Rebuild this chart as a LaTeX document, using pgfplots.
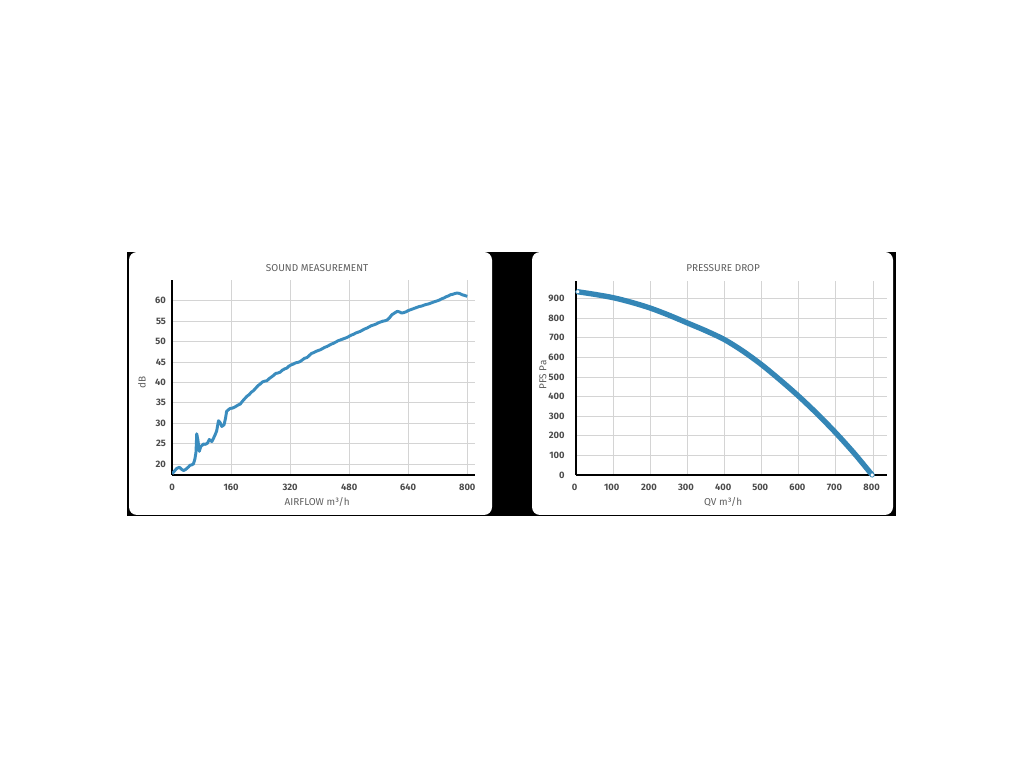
\documentclass[border=0pt]{standalone}
\usepackage{pgfplots}
\pgfplotsset{compat=1.18}
\usepackage{fontspec}
\setmainfont{Fira Sans}
\definecolor{curve}{RGB}{58,140,190}
\definecolor{curve2}{RGB}{52,134,182}
\definecolor{txt}{RGB}{95,95,95}
\definecolor{tck}{RGB}{75,75,75}
\definecolor{grd}{RGB}{212,212,212}

\pgfplotsset{panel/.style={
  scale only axis,
  axis lines*=left,
  axis line style={-, black, line width=1.5pt},
  grid=major,
  grid style={grd, line width=0.6pt},
  major tick length=0pt,
  tick label style={font=\fontsize{7}{8}\selectfont\bfseries, text=tck},
  /pgf/number format/assume math mode=true,
  label style={font=\fontsize{7.5}{9}\selectfont, text=txt},
  every axis title/.style={font=\fontsize{7.5}{9}\selectfont, text=txt, anchor=center},
  xticklabel style={yshift=-3pt},
}}

\begin{document}
\begin{tikzpicture}[x=0.75pt,y=0.75pt]
\fill[white] (0,0) rectangle (1024,768);
\fill[black] (127,252) rectangle (896,516);
\fill[white, rounded corners=6pt] (129,253) rectangle (492,516);
\fill[white, rounded corners=6pt] (532,253) rectangle (893,516);
\coordinate (L) at (172,293);
\coordinate (R) at (576,293);

% sound measurement
\begin{axis}[panel,
  at={(L)}, anchor=south west,
  width=227.25pt, height=146.25pt,
  xmin=0, xmax=821, ymin=17.3, ymax=65.1,
  xtick={0,160,320,480,640,800},
  ytick={20,25,30,35,40,45,50,55,60},
  yticklabel style={xshift=-1pt},
  title={SOUND MEASUREMENT},
  title style={at={(axis description cs:0.479,1.062)}},
  xlabel={AIRFLOW m³/h},
  xlabel style={at={(axis description cs:0.479,-0.138)}, anchor=center},
  ylabel={dB},
  ylabel style={at={(axis description cs:-0.099,0.477)}, anchor=center},
]
\addplot[curve, line width=2.2pt, line join=round] coordinates {
(0,17.6) (6,18.2) (12.7,18.9) (20,19.2) (26,18.7) (31,18.4) (36,18.6) (40,18.9)
(45,19.3) (49,19.7) (54,19.8) (58,20.0) (62,21.2) (65,22.9) (67,27.4) (70,26.0)
(74,23.1) (78,24.3) (82,24.6) (85,24.9) (90,24.8) (96,25.1) (101,26.0) (104,25.8)
(108,25.5) (113,26.4) (117,27.2) (121,28.1) (126,30.6) (130,30.2) (135,29.2)
(141,29.6) (145,31.2) (148,32.9) (153,33.3) (157,33.6) (164,33.7) (171,34.0)
(178,34.4) (185,34.7) (191,35.4) (197,36.0) (203,36.6) (209,37.0) (215,37.6)
(221,38.0) (227,38.6) (233,39.2) (239,39.6) (245,40.1) (251,40.3) (257,40.4)
(263,40.9) (269,41.3) (275,41.7) (281,42.2) (287,42.3) (293,42.5) (299,43.0)
(305,43.3) (311,43.5) (317,44.0) (323,44.3) (329,44.5) (335,44.8) (341,44.9)
(347,45.1) (353,45.5) (359,45.9) (366,46.1) (372,46.6) (378,47.1) (384,47.3)
(390,47.6) (396,47.8) (402,48.0) (408,48.3) (414,48.6) (420,48.8) (426,49.1)
(432,49.4) (438,49.6) (444,49.9) (450,50.2) (456,50.4) (462,50.6) (468,50.8)
(474,51.0) (480,51.3) (486,51.6) (492,51.8) (498,52.1) (504,52.3) (510,52.5)
(516,52.8) (522,53.1) (528,53.3) (534,53.6) (540,53.9) (547,54.1) (553,54.3)
(559,54.6) (565,54.8) (571,55.0) (577,55.1) (583,55.3) (589,55.8) (596,56.6)
(603,57.0) (610,57.4) (616,57.3) (622,57.0) (628,57.1) (634,57.3) (640,57.6)
(646,57.8) (652,58.0) (658,58.2) (664,58.4) (670,58.6) (676,58.7) (682,58.9)
(688,59.1) (694,59.2) (700,59.4) (706,59.6) (712,59.8) (719,60.0) (725,60.2)
(731,60.5) (737,60.7) (743,61.0) (749,61.2) (755,61.5) (761,61.6) (767,61.8)
(773,61.9) (779,61.8) (786,61.5) (793,61.3) (800,61.1)
};
\end{axis}

% pressure drop
\begin{axis}[panel,
  at={(R)}, anchor=south west,
  width=233.25pt, height=145.5pt,
  xmin=0, xmax=838, ymin=0, ymax=990,
  xtick={0,100,...,800},
  ytick={0,100,...,900},
  yticklabel style={xshift=-5pt},
  xticklabel style={xshift=-1pt},
  title={PRESSURE DROP},
  title style={at={(axis description cs:0.473,1.067)}},
  xlabel={QV m³/h},
  xlabel style={at={(axis description cs:0.473,-0.139)}, anchor=center},
  ylabel={PFS Pa},
  ylabel style={at={(axis description cs:-0.106,0.515)}, anchor=center},
]
\addplot[curve2, line width=4pt, smooth, mark=*, mark indices={1,17},
  mark size=1.6pt, mark options={fill=white, draw=curve2, line width=0.6pt}] coordinates {
(5,935) (50,922) (100,905) (150,881) (200,852) (250,816) (300,776) (350,736)
(400,691) (450,632) (500,563) (550,485) (600,402) (650,312) (700,215) (750,110)
(798,0)
};
\end{axis}
\end{tikzpicture}
\end{document}
